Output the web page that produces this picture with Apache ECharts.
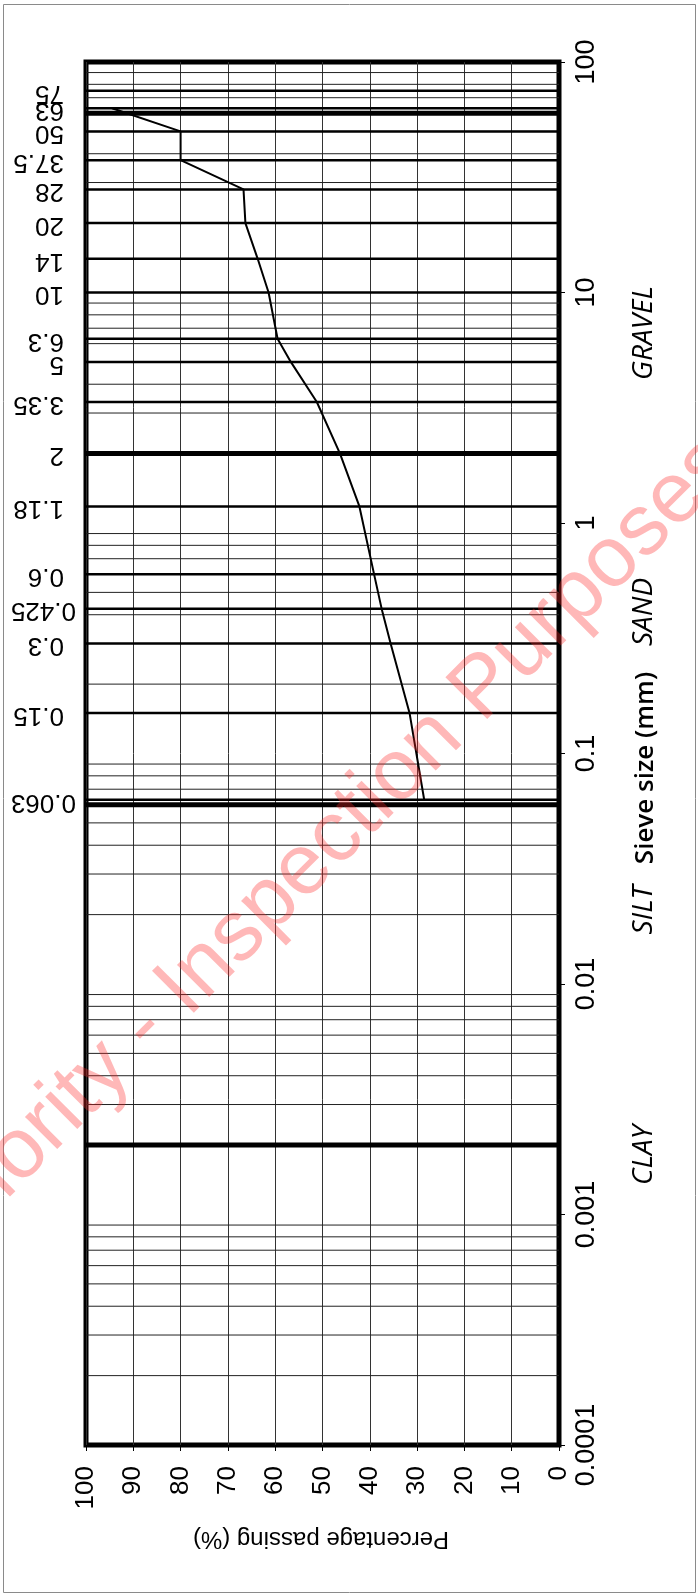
<!DOCTYPE html>
<html><head><meta charset="utf-8">
<script src="https://cdn.jsdelivr.net/npm/echarts@6/dist/echarts.min.js"></script>
<style>html,body{margin:0;padding:0;background:#fff}#c{width:698px;height:1595px}</style>
</head><body><div id="c"></div>
<script>
// ---- data ----
const sieveSizes  = [75, 63, 50, 37.5, 28, 20, 14, 10, 6.3, 5, 3.35, 2, 1.18, 0.6, 0.425, 0.3, 0.15, 0.063];
const sieveLabels = ['75','63','50','37.5','28','20','14','10','6.3','5','3.35','2','1.18','0.6','0.425','0.3','0.15','0.063'];
const boundarySizes = [60, 2, 0.06, 0.002];
const curveSizes   = [63, 50, 37.5, 28, 20, 14, 10, 6.3, 5, 3.35, 2, 1.18, 0.6, 0.425, 0.3, 0.15, 0.063];
const curvePassing = [94.5, 80, 80, 66.7, 66.3, 63.7, 61.4, 59.5, 56.7, 51.2, 46.3, 42.2, 39.1, 37.5, 35.6, 31.6, 28.5];
const soilClasses = ['GRAVEL', 'SAND', 'SILT', 'CLAY'];
const axisTitleSize = 'Sieve size (mm)';
const axisTitlePct = 'Percentage passing (%)';
const watermarkText = 'Authority - Inspection Purposes';

// log-paper minor lines (2..9 in each decade)
const minorSizes = [];
for (let e = -4; e <= 1; e++) {
  for (let k = 2; k <= 9; k++) minorSizes.push(parseFloat((k * Math.pow(10, e)).toPrecision(3)));
}

const chart = echarts.init(document.getElementById('c'), null, {renderer: 'canvas'});
const numFont = '"Liberation Sans", Arial, sans-serif';

function hLineSeries(vals, width, color, z) {
  return {
    type: 'custom', z: z, silent: true, clip: false,
    data: vals.map(v => [50, v]), encode: {x: 0, y: 1},
    renderItem: (params, api) => {
      const v = api.value(1);
      const a = api.coord([100, v]);
      const b = api.coord([0, v]);
      return {type: 'line', shape: {x1: a[0], y1: a[1], x2: b[0], y2: b[1]},
        style: {stroke: color, lineWidth: width}};
    }
  };
}

chart.setOption({
  animation: false,
  backgroundColor: '#fff',
  grid: {left: 86, right: 139, top: 62, bottom: 150, show: true, borderColor: '#000', borderWidth: 5, backgroundColor: 'transparent'},
  xAxis: {
    type: 'value', min: 0, max: 100, interval: 10, inverse: true, position: 'bottom',
    axisLine: {show: true, lineStyle: {color: '#000', width: 1}},
    axisTick: {show: true, length: 6, lineStyle: {color: '#000', width: 1}},
    axisLabel: {rotate: 90, fontSize: 26, margin: 21, color: '#000', fontFamily: numFont},
    splitLine: {show: true, lineStyle: {color: '#333', width: 1}}
  },
  yAxis: {
    type: 'log', logBase: 10, min: 0.0001, max: 100, splitNumber: 6, position: 'right',
    axisLine: {show: true, lineStyle: {color: '#000', width: 1}},
    axisTick: {show: true, length: 6, lineStyle: {color: '#000', width: 1}},
    axisLabel: {rotate: 90, fontSize: 27, margin: 14, color: '#000', fontFamily: numFont,
      formatter: v => String(parseFloat(Number(v).toPrecision(6)))},
    splitLine: {show: false}
  },
  series: [
    hLineSeries(minorSizes, 1, '#222', 2),
    hLineSeries(sieveSizes, 2.5, '#000', 3),
    hLineSeries(boundarySizes, 5, '#000', 4),
    {
      type: 'line', z: 6, symbol: 'none', smooth: false, silent: true,
      lineStyle: {color: '#000', width: 2},
      data: curveSizes.map((s, i) => [curvePassing[i], s])
    }
  ]
});

// ---- text annotations placed through the axis scales ----
const g = [];
g.push({type: 'rect', shape: {x: 3.5, y: 4.5, width: 692, height: 1588}, style: {fill: 'none', stroke: '#8a8a8a', lineWidth: 1}, z: 1});
const xLeft = chart.convertToPixel({xAxisIndex: 0}, 100);
sieveSizes.forEach((s, i) => {
  const py = chart.convertToPixel({yAxisIndex: 0}, s);
  const lab = sieveLabels[i];
  const right = lab.length >= 5 ? xLeft - 10 : xLeft - 22;
  g.push({type: 'text', x: right, y: py + 2, rotation: Math.PI, z: 10,
    style: {text: lab, fontSize: 26, fontFamily: numFont, fill: '#000',
      align: 'left', verticalAlign: 'middle', textAlign: 'left', textVerticalAlign: 'middle'}});
});
const sideFont = '"Open Sans", "Noto Sans", sans-serif';
const classY = [333, 612, 910, 1155];
soilClasses.forEach((t, i) => {
  g.push({type: 'text', x: 644, y: classY[i], rotation: Math.PI / 2, z: 10,
    style: {text: t, fontSize: 28, fontStyle: 'italic', fontFamily: sideFont, fill: '#000',
      align: 'center', verticalAlign: 'middle', textAlign: 'center', textVerticalAlign: 'middle'}});
});
g.push({type: 'text', x: 646, y: 768, rotation: Math.PI / 2, z: 10,
  style: {text: axisTitleSize, fontSize: 26, fontWeight: 600, fontFamily: sideFont, fill: '#000',
    align: 'center', verticalAlign: 'middle', textAlign: 'center', textVerticalAlign: 'middle'}});
g.push({type: 'text', x: 321, y: 1539, rotation: Math.PI, z: 10,
  style: {text: axisTitlePct, fontSize: 24, fontFamily: numFont, fill: '#000',
    align: 'center', verticalAlign: 'middle', textAlign: 'center', textVerticalAlign: 'middle'}});
g.push({type: 'text', x: 692, y: 420, rotation: Math.PI / 4, z: 20, silent: true,
  style: {text: watermarkText, fontSize: 86, fontFamily: numFont, fill: 'rgba(255,40,40,0.33)',
    align: 'right', verticalAlign: 'alphabetic', textAlign: 'right', textVerticalAlign: 'alphabetic'}});
chart.setOption({graphic: {elements: g}});
</script>
</body></html>
